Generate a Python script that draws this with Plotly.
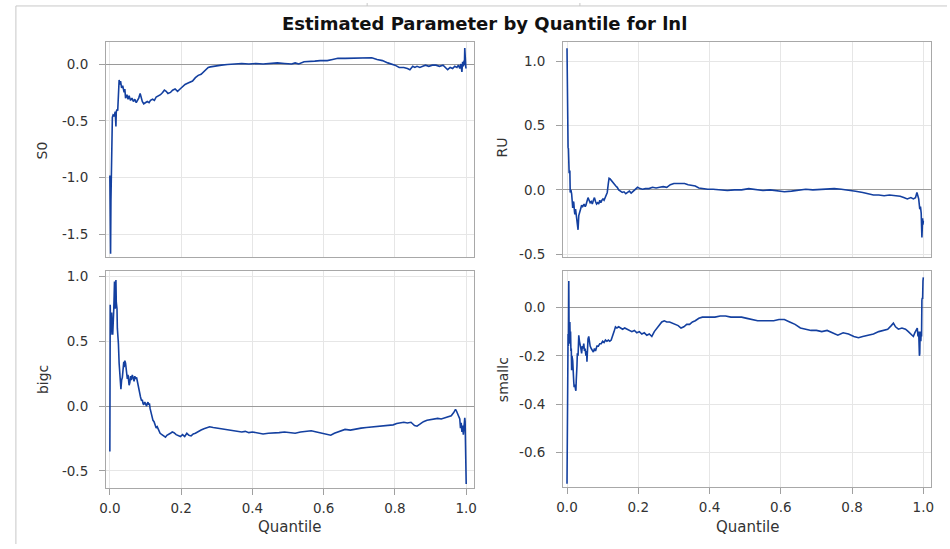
import plotly.graph_objects as go

# ---------------- data ----------------
title_text = "Estimated Parameter by Quantile for lnl"
y_titles = ["S0", "RU", "bigc", "smallc"]
x_title = "Quantile"

x_tickvals = [0.0, 0.2, 0.4, 0.6, 0.8, 1.0]
x_ticktext = ["0.0", "0.2", "0.4", "0.6", "0.8", "1.0"]

s0_ticks = [-1.5, -1.0, -0.5, 0.0]
s0_ticktext = ["-1.5", "-1.0", "-0.5", "0.0"]
ru_ticks = [-0.5, 0.0, 0.5, 1.0]
ru_ticktext = ["-0.5", "0.0", "0.5", "1.0"]
bigc_ticks = [-0.5, 0.0, 0.5, 1.0]
bigc_ticktext = ["-0.5", "0.0", "0.5", "1.0"]
smallc_ticks = [-0.6, -0.4, -0.2, 0.0]
smallc_ticktext = ["-0.6", "-0.4", "-0.2", "0.0"]

s0_q = [0.0, 0.001, 0.002, 0.003, 0.004, 0.005, 0.006, 0.007, 0.009, 0.012,
        0.015, 0.017, 0.018, 0.020, 0.022, 0.024, 0.026, 0.028, 0.030, 0.033,
        0.036, 0.040, 0.042, 0.044, 0.048, 0.051, 0.054, 0.058, 0.062, 0.066,
        0.070, 0.074, 0.078, 0.081, 0.085, 0.088, 0.091, 0.095, 0.100, 0.105,
        0.110, 0.114, 0.120, 0.125, 0.130, 0.136, 0.142, 0.148, 0.153, 0.158,
        0.163, 0.170, 0.176, 0.183, 0.190, 0.197, 0.204, 0.211, 0.218, 0.225,
        0.232, 0.240, 0.248, 0.256, 0.263, 0.270, 0.276, 0.282, 0.290, 0.300,
        0.313, 0.330, 0.350, 0.370, 0.390, 0.410, 0.430, 0.450, 0.470, 0.490,
        0.510, 0.520, 0.530, 0.545, 0.560, 0.575, 0.590, 0.610, 0.625, 0.640,
        0.660, 0.680, 0.700, 0.720, 0.735, 0.750, 0.765, 0.780, 0.790, 0.800,
        0.812, 0.825, 0.835, 0.842, 0.850, 0.856, 0.862, 0.870, 0.878, 0.886,
        0.895, 0.905, 0.915, 0.925, 0.935, 0.942, 0.948, 0.955, 0.962, 0.968,
        0.974, 0.978, 0.982, 0.985, 0.988, 0.990, 0.992, 0.994, 0.995, 0.996,
        0.997, 0.998, 0.999, 1.0]
s0_v = [-0.98, -1.50, -1.67, -1.20, -0.92, -0.91, -0.90, -0.47, -0.45, -0.46,
        -0.42, -0.55, -0.42, -0.40, -0.41, -0.20, -0.14, -0.18, -0.15, -0.21,
        -0.19, -0.25, -0.22, -0.30, -0.27, -0.31, -0.28, -0.32, -0.30, -0.33,
        -0.31, -0.34, -0.32, -0.30, -0.26, -0.31, -0.33, -0.35, -0.34, -0.33,
        -0.34, -0.32, -0.31, -0.32, -0.29, -0.28, -0.27, -0.25, -0.23, -0.24,
        -0.26, -0.25, -0.23, -0.22, -0.24, -0.22, -0.20, -0.18, -0.17, -0.16,
        -0.15, -0.12, -0.10, -0.09, -0.07, -0.05, -0.03, -0.025, -0.02, -0.02,
        -0.01, -0.005, 0.0, 0.005, 0.0, 0.005, 0.0, 0.005, 0.01, 0.005,
        0.0, 0.01, 0.0, 0.02, 0.02, 0.025, 0.03, 0.03, 0.04, 0.05,
        0.05, 0.05, 0.055, 0.05, 0.055, 0.04, 0.03, 0.01, 0.0, -0.01,
        -0.03, -0.03, -0.04, -0.05, -0.02, -0.03, -0.02, -0.03, -0.02, -0.01,
        -0.02, -0.01, -0.01, -0.02, -0.01, -0.03, -0.05, -0.03, -0.04, -0.02,
        -0.03, -0.01, -0.04, 0.0, -0.07, 0.02, -0.02, 0.03, -0.01, 0.14,
        0.01, 0.04, -0.03, -0.04]

ru_q = [0.0, 0.001, 0.002, 0.003, 0.004, 0.005, 0.006, 0.008, 0.009, 0.011,
        0.013, 0.015, 0.016, 0.018, 0.019, 0.021, 0.022, 0.024, 0.026, 0.028,
        0.030, 0.031, 0.033, 0.035, 0.038, 0.041, 0.044, 0.048, 0.051, 0.053,
        0.056, 0.059, 0.062, 0.065, 0.068, 0.071, 0.074, 0.077, 0.080, 0.083,
        0.086, 0.089, 0.092, 0.095, 0.098, 0.101, 0.104, 0.107, 0.110, 0.113,
        0.116, 0.118, 0.121, 0.125, 0.129, 0.133, 0.137, 0.141, 0.145, 0.150,
        0.155, 0.160, 0.165, 0.170, 0.175, 0.180, 0.186, 0.192, 0.198, 0.205,
        0.212, 0.220, 0.230, 0.240, 0.250, 0.260, 0.270, 0.280, 0.290, 0.300,
        0.310, 0.320, 0.330, 0.340, 0.350, 0.360, 0.370, 0.380, 0.395, 0.410,
        0.430, 0.450, 0.470, 0.490, 0.510, 0.530, 0.550, 0.570, 0.590, 0.610,
        0.630, 0.650, 0.670, 0.690, 0.710, 0.730, 0.750, 0.770, 0.790, 0.810,
        0.830, 0.845, 0.860, 0.875, 0.890, 0.905, 0.920, 0.935, 0.945, 0.955,
        0.965, 0.972, 0.978, 0.982, 0.984, 0.987, 0.990, 0.992, 0.994, 0.996,
        0.997, 0.998, 0.999, 1.0]
ru_v = [1.10, 0.60, 0.35, 0.33, 0.32, 0.24, 0.13, 0.15, -0.02, 0.0,
        -0.03, -0.10, -0.14, -0.09, -0.10, -0.17, -0.19, -0.15, -0.20, -0.22,
        -0.28, -0.31, -0.20, -0.17, -0.15, -0.12, -0.13, -0.11, -0.13, -0.12,
        -0.08, -0.06, -0.08, -0.10, -0.09, -0.11, -0.08, -0.06, -0.09, -0.11,
        -0.10, -0.11, -0.08, -0.10, -0.08, -0.07, -0.08, -0.06, -0.05, -0.02,
        0.05, 0.09, 0.085, 0.07, 0.06, 0.04, 0.03, 0.02, 0.0, -0.01,
        -0.02, -0.015, -0.03, -0.02, -0.01, -0.025, -0.01, 0.0, 0.02, 0.01,
        0.005, 0.01, 0.01, 0.02, 0.015, 0.02, 0.025, 0.02, 0.04, 0.05,
        0.05, 0.045, 0.05, 0.04, 0.035, 0.03, 0.015, 0.01, 0.005, 0.005,
        0.0, -0.005, 0.0, 0.0, 0.01, 0.0, -0.005, 0.0, -0.005, -0.015,
        -0.01, 0.0, 0.005, 0.0, 0.005, 0.01, 0.01, 0.005, 0.0, -0.01,
        -0.02, -0.03, -0.04, -0.04, -0.045, -0.04, -0.045, -0.05, -0.06, -0.07,
        -0.06, -0.07, -0.06, -0.02, -0.04, -0.07, -0.15, -0.13, -0.18, -0.37,
        -0.30, -0.22, -0.27, -0.24]

bigc_q = [0.0, 0.001, 0.002, 0.003, 0.004, 0.005, 0.006, 0.007, 0.008, 0.009,
          0.010, 0.011, 0.012, 0.013, 0.014, 0.015, 0.016, 0.017, 0.018, 0.019,
          0.020, 0.021, 0.022, 0.024, 0.026, 0.027, 0.028, 0.030, 0.031, 0.033,
          0.035, 0.037, 0.039, 0.040, 0.042, 0.044, 0.046, 0.049, 0.051, 0.054,
          0.056, 0.058, 0.060, 0.063, 0.066, 0.068, 0.070, 0.072, 0.075, 0.077,
          0.079, 0.081, 0.084, 0.086, 0.089, 0.091, 0.093, 0.095, 0.098, 0.100,
          0.103, 0.105, 0.107, 0.109, 0.111, 0.113, 0.115, 0.118, 0.121, 0.124,
          0.127, 0.130, 0.133, 0.137, 0.141, 0.146, 0.151, 0.156, 0.160, 0.165,
          0.170, 0.175, 0.180, 0.186, 0.192, 0.198, 0.204, 0.210, 0.216, 0.222,
          0.228, 0.234, 0.240, 0.248, 0.256, 0.264, 0.272, 0.280, 0.290, 0.300,
          0.310, 0.320, 0.330, 0.340, 0.350, 0.360, 0.370, 0.380, 0.390, 0.400,
          0.415, 0.430, 0.445, 0.460, 0.475, 0.490, 0.505, 0.520, 0.535, 0.550,
          0.565, 0.580, 0.595, 0.610, 0.620, 0.630, 0.645, 0.660, 0.675, 0.690,
          0.705, 0.720, 0.735, 0.750, 0.765, 0.780, 0.795, 0.805, 0.815, 0.825,
          0.835, 0.845, 0.855, 0.862, 0.870, 0.880, 0.890, 0.900, 0.910, 0.920,
          0.930, 0.940, 0.950, 0.958, 0.965, 0.970, 0.973, 0.976, 0.979, 0.982,
          0.984, 0.986, 0.988, 0.990, 0.992, 0.994, 0.996, 0.997, 0.998, 0.999, 1.0]
bigc_v = [-0.35, 0.78, 0.60, 0.55, 0.68, 0.72, 0.62, 0.66, 0.55, 0.60,
          0.62, 0.75, 0.85, 0.96, 0.80, 0.75, 0.90, 0.97, 0.80, 0.77,
          0.75, 0.60, 0.50, 0.48, 0.33, 0.30, 0.25, 0.17, 0.13, 0.20,
          0.22, 0.28, 0.34, 0.30, 0.35, 0.33, 0.26, 0.21, 0.24, 0.16,
          0.18, 0.23, 0.20, 0.24, 0.21, 0.19, 0.23, 0.21, 0.22, 0.19,
          0.16, 0.12, 0.08, 0.07, 0.04, 0.05, 0.02, 0.01, 0.03, 0.02,
          0.0, 0.02, 0.03, 0.01, 0.02, -0.02, -0.05, -0.08, -0.11, -0.12,
          -0.14, -0.17, -0.16, -0.19, -0.21, -0.22, -0.23, -0.24, -0.225, -0.22,
          -0.21, -0.20, -0.205, -0.22, -0.23, -0.235, -0.22, -0.235, -0.21, -0.225,
          -0.23, -0.215, -0.21, -0.195, -0.185, -0.175, -0.17, -0.16, -0.165, -0.17,
          -0.175, -0.18, -0.185, -0.19, -0.19, -0.195, -0.20, -0.195, -0.205, -0.20,
          -0.205, -0.215, -0.21, -0.21, -0.205, -0.20, -0.205, -0.21, -0.20, -0.195,
          -0.19, -0.20, -0.21, -0.215, -0.225, -0.21, -0.195, -0.18, -0.185, -0.175,
          -0.17, -0.165, -0.16, -0.155, -0.15, -0.15, -0.145, -0.135, -0.13, -0.125,
          -0.13, -0.125, -0.15, -0.155, -0.14, -0.12, -0.11, -0.105, -0.10, -0.095,
          -0.10, -0.09, -0.085, -0.075, -0.05, -0.025, -0.04, -0.06, -0.09, -0.10,
          -0.17, -0.13, -0.20, -0.15, -0.22, -0.14, -0.09, -0.12, -0.53, -0.55, -0.60]

smallc_q = [0.0, 0.001, 0.002, 0.003, 0.004, 0.005, 0.006, 0.007, 0.008, 0.009,
            0.010, 0.011, 0.012, 0.013, 0.014, 0.016, 0.017, 0.019, 0.020, 0.022,
            0.024, 0.025, 0.026, 0.027, 0.028, 0.029, 0.031, 0.032, 0.033, 0.035,
            0.037, 0.039, 0.041, 0.043, 0.045, 0.047, 0.049, 0.051, 0.053, 0.055,
            0.056, 0.057, 0.059, 0.061, 0.063, 0.065, 0.068, 0.071, 0.074, 0.077,
            0.080, 0.084, 0.088, 0.092, 0.096, 0.100, 0.104, 0.108, 0.112, 0.116,
            0.120, 0.124, 0.128, 0.132, 0.136, 0.140, 0.145, 0.150, 0.156, 0.162,
            0.168, 0.175, 0.182, 0.189, 0.196, 0.203, 0.210, 0.217, 0.224, 0.231,
            0.238, 0.245, 0.252, 0.259, 0.266, 0.273, 0.280, 0.288, 0.296, 0.304,
            0.312, 0.320, 0.328, 0.336, 0.344, 0.352, 0.360, 0.370, 0.380, 0.390,
            0.400, 0.415, 0.430, 0.445, 0.460, 0.475, 0.490, 0.505, 0.520, 0.535,
            0.550, 0.565, 0.580, 0.595, 0.610, 0.625, 0.640, 0.655, 0.670, 0.685,
            0.700, 0.715, 0.730, 0.745, 0.760, 0.775, 0.790, 0.805, 0.818, 0.830,
            0.845, 0.860, 0.875, 0.890, 0.900, 0.910, 0.916, 0.922, 0.930, 0.940,
            0.950, 0.958, 0.965, 0.972, 0.976, 0.980, 0.983, 0.985, 0.987, 0.989,
            0.990, 0.991, 0.993, 0.994, 0.995, 0.996, 0.997, 0.998, 0.999, 1.0]
smallc_v = [-0.73, -0.12, -0.14, -0.11, -0.16, 0.11, -0.15, -0.10, -0.06, -0.14,
            -0.10, -0.18, -0.17, -0.26, -0.20, -0.22, -0.30, -0.31, -0.33, -0.32,
            -0.34, -0.345, -0.30, -0.28, -0.24, -0.19, -0.20, -0.16, -0.115, -0.14,
            -0.17, -0.17, -0.19, -0.16, -0.17, -0.15, -0.18, -0.17, -0.20, -0.18,
            -0.225, -0.17, -0.13, -0.12, -0.15, -0.16, -0.17, -0.18, -0.185, -0.17,
            -0.18, -0.16, -0.16, -0.15, -0.15, -0.14, -0.145, -0.135, -0.14, -0.135,
            -0.14, -0.135, -0.12, -0.10, -0.08, -0.085, -0.08, -0.085, -0.09, -0.085,
            -0.09, -0.095, -0.10, -0.095, -0.105, -0.10, -0.11, -0.105, -0.115, -0.11,
            -0.12, -0.10, -0.085, -0.07, -0.06, -0.055, -0.06, -0.06, -0.065, -0.07,
            -0.075, -0.085, -0.08, -0.07, -0.07, -0.06, -0.055, -0.045, -0.04, -0.04,
            -0.04, -0.04, -0.035, -0.035, -0.04, -0.04, -0.04, -0.045, -0.05, -0.055,
            -0.055, -0.055, -0.055, -0.05, -0.05, -0.06, -0.07, -0.085, -0.09, -0.095,
            -0.095, -0.10, -0.095, -0.105, -0.115, -0.105, -0.11, -0.12, -0.125, -0.12,
            -0.115, -0.11, -0.10, -0.095, -0.09, -0.075, -0.065, -0.08, -0.09, -0.085,
            -0.09, -0.10, -0.11, -0.12, -0.105, -0.09, -0.085, -0.12, -0.10, -0.20,
            -0.19, -0.10, -0.14, -0.10, -0.12, 0.03, 0.04, 0.035, 0.11, 0.125]

# ---------------- figure ----------------
FONT = "DejaVu Sans, Verdana, sans-serif"
LINE = "#1440a0"
W, H = 950, 549

def px_x(p):
    return p / W

def px_y(p):
    return 1 - p / H

panels = [
    # (q, v, tickvals, ticktext, yrange, xdom(px), ydom(px), bottom_row)
    (s0_q, s0_v, s0_ticks, s0_ticktext, [-1.70, 0.19], (100, 472), (40, 258), False),
    (ru_q, ru_v, ru_ticks, ru_ticktext, [-0.523, 1.145], (562, 934), (40, 258), False),
    (bigc_q, bigc_v, bigc_ticks, bigc_ticktext, [-0.63, 1.04], (100, 472), (272, 492), True),
    (smallc_q, smallc_v, smallc_ticks, smallc_ticktext, [-0.743, 0.151], (562, 934), (272, 491), True),
]

fig = go.Figure()
layout = dict(
    width=W, height=H,
    margin=dict(l=0, r=0, t=0, b=0),
    paper_bgcolor="white", plot_bgcolor="white",
    showlegend=False,
    font=dict(family=FONT, size=12, color="#333333"),
)

for i, (q, v, tv, tt, yr, xd, yd, bottom) in enumerate(panels, start=1):
    n = min(len(q), len(v))
    sfx = "" if i == 1 else str(i)
    fig.add_trace(go.Scatter(
        x=q[:n], y=v[:n], mode="lines",
        line=dict(color=LINE, width=1.6),
        xaxis="x" + sfx, yaxis="y" + sfx, hoverinfo="skip",
    ))
    layout["xaxis" + sfx] = dict(
        domain=[px_x(xd[0]), px_x(xd[1])],
        anchor="y" + sfx,
        range=[-0.011, 1.022],
        tickvals=x_tickvals, ticktext=x_ticktext,
        showticklabels=bottom,
        ticks="outside" if bottom else "",
        ticklen=6, tickcolor="#a0a0a0",
        ticklabelstandoff=2,
        showline=True, mirror=True, linecolor="#a8a8a8", linewidth=1,
        showgrid=True, gridcolor="#e6e6e6", gridwidth=1,
        zeroline=False,
        tickfont=dict(family=FONT, size=13.5, color="#333333"),
    )
    layout["yaxis" + sfx] = dict(
        domain=[px_y(yd[1]), px_y(yd[0])],
        anchor="x" + sfx,
        range=yr,
        tickvals=tv, ticktext=tt,
        ticks="outside", ticklen=6, tickcolor="#a0a0a0",
        ticklabelstandoff=8,
        showline=True, mirror=True, linecolor="#a8a8a8", linewidth=1,
        showgrid=True, gridcolor="#e6e6e6", gridwidth=1,
        zeroline=True, zerolinecolor="#9a9a9a", zerolinewidth=1,
        tickfont=dict(family=FONT, size=13.5, color="#333333"),
    )

annotations = [
    dict(text="<b>" + title_text + "</b>", x=px_x(483), y=px_y(21),
         xref="paper", yref="paper", showarrow=False,
         font=dict(family=FONT, size=18, color="#111111"),
         xanchor="center", yanchor="middle"),
]
ylab_pos = [(35, 150), (500, 147), (37, 382), (502, 382)]
for label, (lx, ly) in zip(y_titles, ylab_pos):
    annotations.append(dict(
        text=label, x=px_x(lx), y=px_y(ly), xref="paper", yref="paper",
        showarrow=False, textangle=-90,
        font=dict(family=FONT, size=14, color="#333333"),
        xanchor="center", yanchor="middle"))
for lx in (286, 748):
    annotations.append(dict(
        text=x_title, x=px_x(lx), y=px_y(532), xref="paper", yref="paper",
        showarrow=False, font=dict(family=FONT, size=15, color="#333333"),
        xanchor="center", yanchor="middle"))
layout["annotations"] = annotations

layout["shapes"] = [
    dict(type="line", xref="paper", yref="paper",
         x0=px_x(9), x1=1, y0=px_y(3), y1=px_y(3),
         line=dict(color="#c8c8c8", width=1)),
    dict(type="line", xref="paper", yref="paper",
         x0=px_x(9), x1=px_x(9), y0=px_y(3), y1=0,
         line=dict(color="#c8c8c8", width=1)),
    dict(type="line", xref="paper", yref="paper",
         x0=px_x(364), x1=px_x(364), y0=1, y1=px_y(3),
         line=dict(color="#c8c8c8", width=1)),
    dict(type="line", xref="paper", yref="paper",
         x0=px_x(579), x1=px_x(579), y0=1, y1=px_y(3),
         line=dict(color="#c8c8c8", width=1)),
]

fig.update_layout(**layout)
fig.write_html(
    "out.html",
    config={"displayModeBar": False},
    post_script="document.body.style.margin='0';document.body.style.padding='0';",
)
